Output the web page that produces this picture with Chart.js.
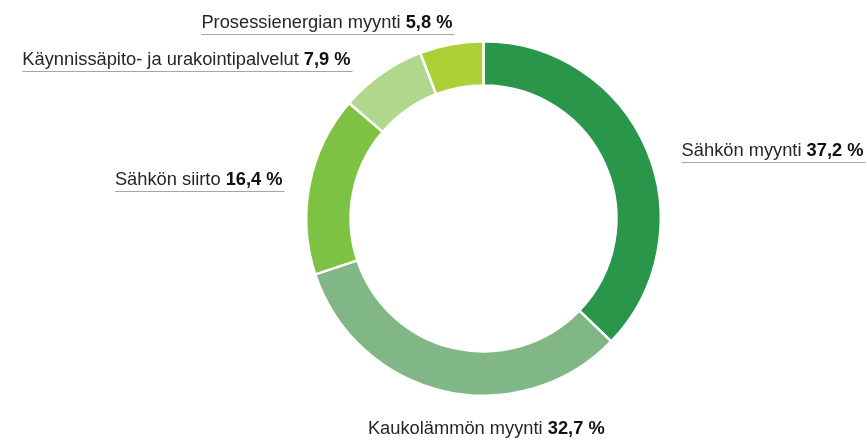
<!DOCTYPE html>
<html>
<head>
<meta charset="utf-8">
<script src="https://cdn.jsdelivr.net/npm/chart.js@4/dist/chart.umd.min.js"></script>
<style>
  html, body { margin: 0; padding: 0; background: #fff; }
  #wrap { width: 867px; height: 440px; position: relative; }
</style>
</head>
<body>
<div id="wrap"><canvas id="salesChart"></canvas></div>
<script>
// Segment names and shares (%), clockwise from 12 o'clock
var segmentNames = [
    'Sähkön myynti',
    'Kaukolämmön myynti',
    'Sähkön siirto',
    'Käynnissäpito- ja urakointipalvelut',
    'Prosessienergian myynti'
];
var segmentShares = [37.2, 32.7, 16.4, 7.9, 5.8];
var shareLabels = ['37,2 %', '32,7 %', '16,4 %', '7,9 %', '5,8 %'];

var segmentColors = ['#2a9649', '#81b787', '#7dc242', '#b1d78c', '#acd036'];

// label placement relative to the middle of each arc's outer edge
var labelOffsets = [
    { dx: 35, dy: 7, align: 'left' },
    { dx: 42, dy: 43, align: 'center' },
    { dx: -27, dy: 1, align: 'right' },
    { dx: -31, dy: -8.5, align: 'right' },
    { dx: 1, dy: -16.6, align: 'right' }
];

var FONT = '"Liberation Sans", Arial, sans-serif';
var SIZE = '18.3px ';

var outsideLabels = {
    id: 'outsideLabels',
    afterDatasetsDraw: function(chart) {
        var ctx = chart.ctx;
        var arcs = chart.getDatasetMeta(0).data;
        ctx.save();
        ctx.textBaseline = 'alphabetic';
        arcs.forEach(function(arc, i) {
            var p = arc.getProps(['x', 'y', 'startAngle', 'endAngle', 'outerRadius'], true);
            var mid = (p.startAngle + p.endAngle) / 2;
            var ax = p.x + Math.cos(mid) * p.outerRadius;
            var ay = p.y + Math.sin(mid) * p.outerRadius;
            var off = labelOffsets[i];

            var name = segmentNames[i] + ' ';
            ctx.font = SIZE + FONT;
            var w1 = ctx.measureText(name).width;
            ctx.font = 'bold ' + SIZE + FONT;
            var w2 = ctx.measureText(shareLabels[i]).width;
            var total = w1 + w2;

            var x0 = ax + off.dx;
            if (off.align === 'right') x0 -= total;
            else if (off.align === 'center') x0 -= total / 2;
            var base = ay + off.dy;

            ctx.textAlign = 'left';
            ctx.fillStyle = '#262626';
            ctx.font = SIZE + FONT;
            ctx.fillText(name, x0, base);
            ctx.fillStyle = '#111';
            ctx.font = 'bold ' + SIZE + FONT;
            ctx.fillText(shareLabels[i], x0 + w1, base);

            // thin grey underline
            ctx.strokeStyle = '#a6a6a6';
            ctx.lineWidth = 1;
            ctx.beginPath();
            ctx.moveTo(x0, Math.round(base + 6) + 0.5);
            ctx.lineTo(x0 + total + 2, Math.round(base + 6) + 0.5);
            ctx.stroke();
        });
        ctx.restore();
    }
};

var ctx = document.getElementById('salesChart').getContext('2d');
var salesChart = new Chart(ctx, {
    type: 'doughnut',
    data: {
        labels: segmentNames,
        datasets: [{
            data: segmentShares,
            backgroundColor: segmentColors,
            borderColor: '#ffffff',
            borderWidth: 2.5
        }]
    },
    options: {
        responsive: true,
        maintainAspectRatio: false,
        animation: false,
        cutout: '75%',
        layout: {
            padding: { top: 40, bottom: 43, left: 100, right: 0 }
        },
        plugins: {
            legend: { display: false },
            tooltip: { enabled: false }
        }
    },
    plugins: [outsideLabels]
});
</script>
</body>
</html>
